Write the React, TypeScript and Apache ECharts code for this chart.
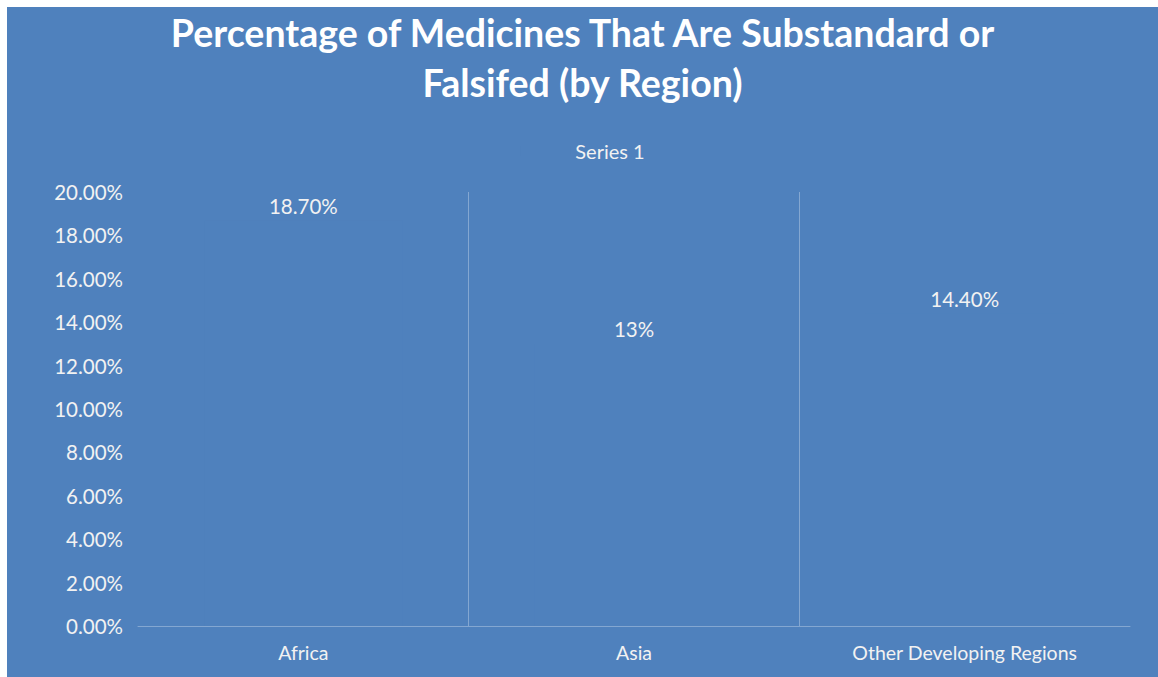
import React, { useEffect, useRef } from "react";
import * as echarts from "echarts";

const categories = ["Africa", "Asia", "Other Developing Regions"];
const values = [0.187, 0.13, 0.144];
const valueLabels = ["18.70%", "13%", "14.40%"];
const seriesName = "Series 1";
const titleText = "Percentage of Medicines That Are Substandard or\nFalsifed (by Region)";

const BG = "#4F81BD";
const FONT = "Lato";

export default function App() {
  const ref = useRef<HTMLDivElement>(null);
  useEffect(() => {
    if (!ref.current) return;
    const chart = echarts.init(ref.current, undefined, { renderer: "svg" });
    chart.setOption({
      animation: false,
      backgroundColor: BG,
      textStyle: { fontFamily: FONT },
      title: {
        text: titleText,
        left: "center",
        top: 0,
        padding: 0,
        textStyle: {
          color: "#ffffff",
          fontSize: 37.5,
          fontWeight: "bold",
          fontFamily: FONT,
          lineHeight: 50,
        },
      },
      legend: {
        data: [{ name: seriesName, icon: "rect", itemStyle: { color: BG } }],
        top: 129,
        left: "center",
        itemWidth: 50,
        itemHeight: 10,
        itemGap: 5,
        textStyle: { color: "#f2f2f2", fontSize: 20, fontFamily: FONT },
      },
      grid: { left: 131, right: 28, top: 185, bottom: 51, containLabel: false },
      xAxis: {
        type: "category",
        data: categories,
        axisLine: { show: true, lineStyle: { color: "rgba(255,255,255,0.3)", width: 1 } },
        axisTick: { show: false },
        axisLabel: { color: "#f2f2f2", fontSize: 19.5, fontFamily: FONT, margin: 16 },
        splitLine: {
          show: true,
          showMinLine: false,
          showMaxLine: false,
          lineStyle: { color: "rgba(255,255,255,0.3)", width: 1 },
        },
      },
      yAxis: {
        type: "value",
        min: 0,
        max: 0.2,
        interval: 0.02,
        axisLine: { show: false },
        axisTick: { show: false },
        splitLine: { show: false },
        axisLabel: {
          color: "#f2f2f2",
          fontSize: 20.5,
          fontFamily: FONT,
          margin: 15,
          formatter: (v: number) => (v * 100).toFixed(2) + "%",
        },
      },
      series: [
        {
          name: seriesName,
          type: "bar",
          data: values,
          barWidth: "60%",
          itemStyle: { color: BG },
          label: {
            show: true,
            position: "top",
            distance: 4,
            color: "#f2f2f2",
            fontSize: 20.5,
            fontFamily: FONT,
            formatter: (p: any) => valueLabels[p.dataIndex],
          },
        },
      ],
    });
    return () => chart.dispose();
  }, []);
  return (
    <div
      ref={ref}
      style={{ position: "fixed", left: 7, top: 7, width: 1151, height: 670 }}
    />
  );
}
